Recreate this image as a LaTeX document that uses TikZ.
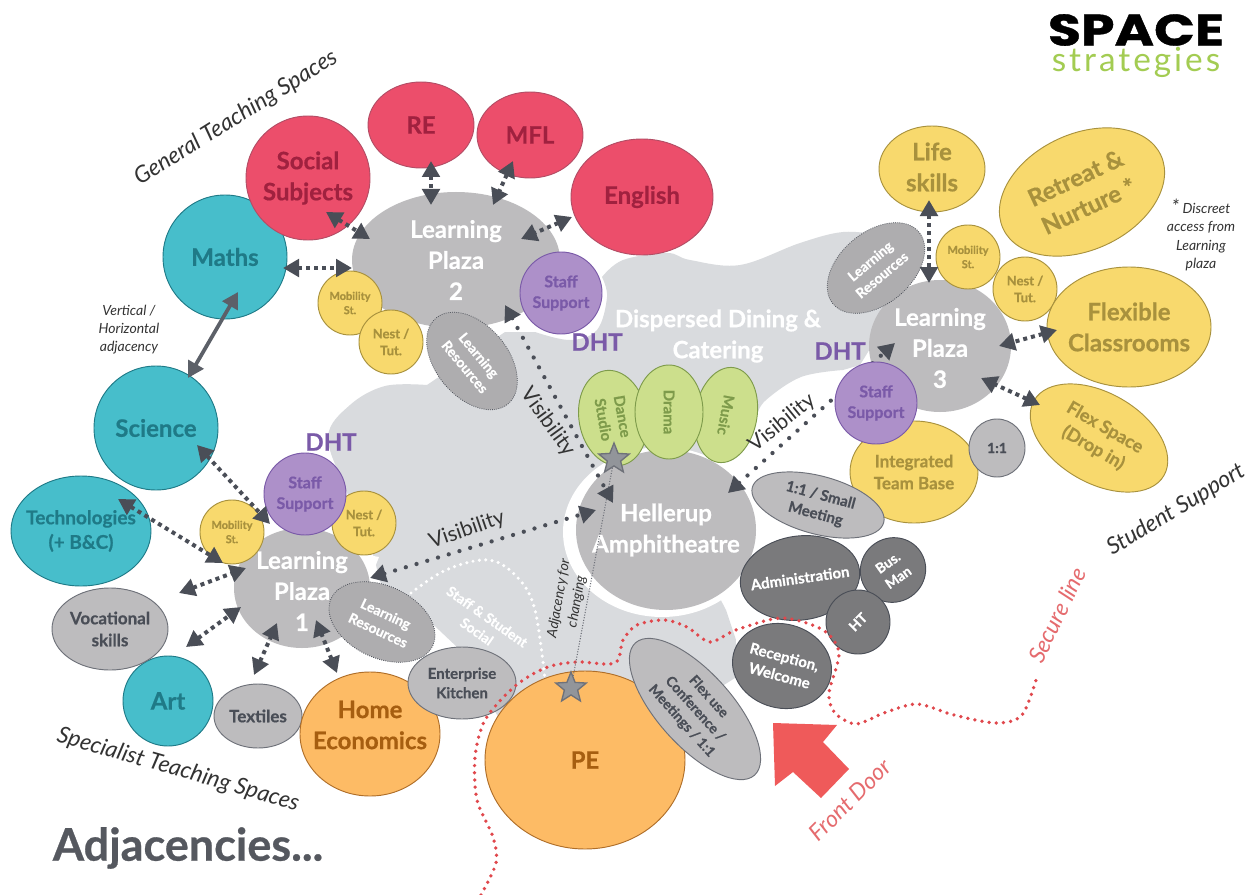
\documentclass[tikz,border=0pt]{standalone}
\usepackage{fontspec}
\setmainfont{Lato}[BoldFeatures={FakeBold=0.6}]
\newfontfamily\logofont{Poppins}[BoldFeatures={FakeBold=0.8}]
\usetikzlibrary{shapes.geometric,arrows.meta}
\definecolor{cbg}{HTML}{D9DBDE}
\definecolor{cteal}{HTML}{47BECB}\definecolor{cteald}{HTML}{1F7A87}
\definecolor{cred}{HTML}{EC4E6B}\definecolor{credd}{HTML}{A0213F}
\definecolor{cyel}{HTML}{F8D96D}\definecolor{cyeld}{HTML}{A8913D}
\definecolor{cpur}{HTML}{AD90C9}\definecolor{cpurd}{HTML}{7A5AA8}
\definecolor{cgry}{HTML}{BDBCBE}\definecolor{cgryd}{HTML}{4A4E57}
\definecolor{cdrk}{HTML}{7A7A7C}
\definecolor{cgrn}{HTML}{CCDF8C}\definecolor{cgrnd}{HTML}{7E9B4B}
\definecolor{corg}{HTML}{FDBB65}\definecolor{corgd}{HTML}{A65E10}
\definecolor{carrow}{HTML}{4A4E57}
\definecolor{csec}{HTML}{E0474C}
\definecolor{clab}{HTML}{333333}
\definecolor{cfront}{HTML}{EF5A5A}
\definecolor{cfronttext}{HTML}{E56B6E}
\definecolor{ctitle}{HTML}{55585F}
\definecolor{cgreen}{HTML}{A3CC52}
\tikzset{
  bubble/.style={ellipse,inner sep=0pt,outer sep=0pt},
  bteal/.style={fill=cteal,draw=cteald,line width=.7pt},
  bteal-t/.style={text=cteald},
  bred/.style={fill=cred,draw=credd!80,line width=.7pt},
  bred-t/.style={text=credd},
  byel/.style={fill=cyel,draw=cyeld,line width=.7pt},
  byel-t/.style={text=cyeld},
  bpur/.style={fill=cpur,draw=cpurd,line width=.7pt},
  bpur-t/.style={text=cpurd},
  bgry/.style={fill=cgry,draw=cgryd!80,line width=.7pt},
  bgry-t/.style={text=cgryd},
  bplaza/.style={fill=cgry},
  bplaza-t/.style={text=white},
  blr/.style={fill=cgry!92!black,draw=cgryd,line width=.6pt,densely dotted},
  blr-t/.style={text=white},
  bdrk/.style={fill=cdrk,draw=cgryd,line width=.7pt},
  bdrk-t/.style={text=white},
  bgrn/.style={fill=cgrn,draw=cgrnd,line width=.7pt},
  bgrn-t/.style={text=cgrnd},
  borg/.style={fill=corg,draw=corgd!90,line width=.7pt},
  borg-t/.style={text=corgd},
  dblarr/.style={draw=carrow,line width=3pt,dash pattern=on 3pt off 3pt,
     arrows={Triangle[length=12pt,width=13pt,fill=carrow]-Triangle[length=12pt,width=13pt,fill=carrow]}},
  solidarr/.style={draw=carrow!90,line width=2.8pt,
     arrows={Triangle[length=12pt,width=13pt]-Triangle[length=12pt,width=13pt]}},
  visarr/.style={draw=carrow,line width=3.2pt,line cap=round,dash pattern=on 0pt off 8.4pt,
     arrows={Triangle[length=12pt,width=13pt,fill=carrow]-Triangle[length=12pt,width=13pt,fill=carrow]}},
  secline/.style={draw=csec,line width=2.8pt,line cap=round,dash pattern=on 0pt off 5.4pt},
  whitedots/.style={draw=white,line width=2.6pt,line cap=round,dash pattern=on 0pt off 4.8pt},
  starnode/.style={star,star points=5,star point ratio=2.3,minimum size=24pt,inner sep=0pt,fill=cgryd!60,draw=cgryd!80,line width=1pt},
  adjline/.style={draw=cgryd!80,line width=.8pt,dash pattern=on .8pt off 1.2pt},
}
\def\bubdy{0}
\newcommand\bub[9]{%
  \pgfmathsetmacro\bubw{#5*1.5}\pgfmathsetmacro\bubh{#6*1.5}%
  \pgfmathsetmacro\bubfs{#8*.75}\pgfmathsetmacro\bubls{#8*.97}%
  \node[bubble,#1,minimum width=\bubw pt,minimum height=\bubh pt,rotate=#7] (#2) at (#3,#4) {};
  \node[#1-t,rotate=#7,inner sep=0pt,align=center,font=\fontsize{\bubfs}{\bubls}\selectfont\bfseries] (#2-t) at ([shift={(0,\bubdy)}]#2.center) {#9};
  \gdef\bubdy{0}%
}
\newcommand\lab[8]{%
  \pgfmathsetmacro\bubfs{#6*.75}\pgfmathsetmacro\bubls{#6*.97}%
  \node[text=#1,rotate=#5,inner sep=0pt,align=center,font=\fontsize{\bubfs}{\bubls}\selectfont#2] (#7) at (#3,#4) {#8};
}
\newcommand\conn[7]{\draw[#1] ([shift={(#3,#4)}]#2.center) -- ([shift={(#6,#7)}]#5.center);}
\begin{document}
\begin{tikzpicture}[x=.75pt,y=-.75pt]
\useasboundingbox (0,0) rectangle (1249,895);
\fill[white] (0,0) rectangle (1249,895);
% background blob
\fill[cbg] plot[smooth,tension=.6] coordinates {(602,277)(623,260)(667,253)(690,260)(740,265)(800,243)(843,232)(880,235)}
  -- (900,300) -- (860,365)
  -- plot[smooth,tension=.6] coordinates {(843,370)(801,377)(766,400)(757,415)}
  -- (700,470) -- (700,560) -- (726,610) -- (736,640) -- (735,678) -- (700,700) -- (600,720) -- (500,720) -- (457,647)
  -- plot[smooth,tension=.6] coordinates {(421,613)(385,590)(372,552)(346,490)(328,437)(350,405)(385,386)(427,385)}
  -- (505,332)
  -- plot[smooth,tension=.6] coordinates {(535,332)(570,340)(597,330)(607,297)(602,277)} -- cycle;
\fill[white] (662,532) ellipse [x radius=99,y radius=85];
\fill[white] (368,555) -- (379,557) -- (373,572) -- cycle;
\draw[whitedots] plot[smooth,tension=.6] coordinates {(411,593)(446,570)(489,560)(518,578)(535,610)(545,680)};
% plazas and amphitheatre
\def\bubdy{3}\bub{bplaza}{lp1}{302}{588}{68}{60}{0}{24}{Learning\\Plaza\\1}
\bub{bplaza}{lp2}{456}{260}{104}{68}{0}{24}{Learning\\Plaza\\2}
\def\bubdy{2}\bub{bplaza}{lp3}{940}{346}{71}{66}{0}{24}{Learning\\Plaza\\3}
\bub{bplaza}{amph}{666}{530}{90}{80}{0}{24}{Hellerup\\Amphitheatre}
\conn{visarr}{amph}{62}{-37}{lp3}{-45}{-3}
% teal
\bub{bteal}{maths}{225}{257}{62}{62}{0}{24}{Maths}
\bub{bteal}{science}{156}{428}{62}{62}{0}{24}{Science}
\bub{bteal}{tech}{81}{531}{70}{55}{0}{19}{Technologies\\(+ B\&C)}
\bub{bteal}{art}{168}{701}{45}{45}{0}{24}{Art}
% red
\bub{bred}{social}{308}{178}{62}{62}{0}{24}{Social\\Subjects}
\bub{bred}{re}{421}{125}{53}{43}{0}{24}{RE}
\bub{bred}{mfl}{530}{135}{53}{43}{0}{24}{MFL}
\bub{bred}{english}{642}{197}{71}{58}{0}{24}{English}
% left group
\bub{bgry}{voc}{110}{629}{58}{41}{0}{17}{Vocational\\skills}
\bub{bgry}{textiles}{258}{716}{44}{32}{0}{17}{Textiles}
\def\bubdy{-9}\bub{borg}{home}{370}{734}{70}{62}{0}{24}{Home\\Economics}
\bub{bgry}{kitchen}{462}{683}{54}{36}{0}{15}{Enterprise\\Kitchen}
\bub{byel}{mob1}{232}{532}{32}{32}{0}{11}{Mobility\\St.}
\bub{byel}{nest1}{364}{523}{32}{32}{0}{13}{Nest /\\Tut.}
\bub{bpur}{staff1}{305}{494}{41}{41}{0}{16}{Staff\\Support}
\bub{blr}{res1}{382}{622}{56}{36}{-25}{14}{Learning\\Resources}
% top group
\bub{byel}{mob2}{350}{303}{32}{32}{0}{11}{Mobility\\St.}
\bub{byel}{nest2}{391}{342}{32}{32}{0}{13}{Nest /\\Tut.}
\bub{bpur}{staff2}{561}{293}{41}{41}{0}{16}{Staff\\Support}
\bub{blr}{res2}{472}{361}{56}{36}{-50}{14}{Learning\\Resources}
% right group
\def\bubdy{-2}\bub{byel}{life}{932}{169}{53}{43}{0}{24}{Life\\skills}
\bub{byel}{retreat}{1082}{192}{87}{58}{25}{24}{Retreat \&\\Nurture *}
\bub{byel}{mob3}{968}{257}{32}{32}{0}{11}{Mobility\\St.}
\bub{byel}{nest3}{1025}{289}{32}{32}{0}{13}{Nest /\\Tut.}
\bub{byel}{flexible}{1129}{327}{82}{60}{0}{24}{Flexible\\Classrooms}
\bub{byel}{flexspace}{1099}{438}{75}{45}{-30}{18}{Flex Space\\(Drop in)}
\bub{blr}{res3}{876}{268}{56}{36}{40}{14}{Learning\\Resources}
\bub{byel}{team}{914}{472}{64}{51}{0}{17}{Integrated\\Team Base}
\bub{bpur}{staff3}{876}{403}{41}{41}{0}{16}{Staff\\Support}
\bub{bgry}{one}{997}{448}{28}{29}{0}{14}{1:1}
\bub{bgry}{small}{818}{505}{68}{29}{-15}{15}{1:1 / Small\\Meeting}
% admin
\bub{bdrk}{admin}{800}{578}{60}{42}{8}{15}{Administration}
\bub{bdrk}{bus}{893}{570}{33}{32}{35}{14}{Bus.\\Man}
\bub{bdrk}{ht}{858}{622}{32}{32}{45}{14}{HT}
\bub{bdrk}{recep}{782}{666}{50}{42}{-15}{15}{Reception,\\Welcome}
% PE
\bub{borg}{pe}{585}{760}{100}{89}{0}{24}{PE}
\bub{bgry}{flexuse}{695}{709}{89}{37}{-48}{14}{Flex use\\Conference /\\Meetings / 1:1}
% performance
\bub{bgrn}{dance}{613}{418}{48}{34}{-80}{15}{Dance\\Studio}
\bub{bgrn}{music}{726}{415}{48}{31}{-100}{15}{Music}
\bub{bgrn}{drama}{669}{412}{47}{34}{-90}{15}{Drama}
% secure line
\draw[secline] plot[smooth,tension=.5] coordinates {(481,895)(496,863)(493,837)(477,800)(475,757)(485,720)(514,687)(545,668)(576,662)(615,663)(623,640)(637,625)(664,620)(687,627)(710,642)(736,630)(782,618)(823,630)(839,653)(829,693)(835,713)(856,724)(884,713)(917,704)(954,715)(996,723)(1022,715)(1037,677)};
% stars
\node[starnode] (star1) at (614,459) {};
\node[starnode] (star2) at (571,688) {};
\draw[adjline] (star1) -- (star2);
% connectors
\conn{dblarr}{maths}{58}{11}{lp2}{-104}{8}
\conn{dblarr}{social}{18}{34}{lp2}{-86}{-21}
\conn{dblarr}{re}{10}{36}{lp2}{-25}{-55}
\conn{dblarr}{mfl}{-17}{26}{lp2}{37}{-55}
\conn{dblarr}{english}{-70}{20}{lp2}{65}{-21}
\conn{solidarr}{maths}{13}{35}{science}{32}{-50}
\conn{dblarr}{science}{41}{17}{lp1}{-32}{-64}
\conn{dblarr}{tech}{37}{-32}{lp1}{-79}{-25}
\conn{dblarr}{voc}{69}{-36}{lp1}{-56}{-20}
\conn{dblarr}{art}{18}{-54}{lp1}{-61}{19}
\conn{dblarr}{textiles}{-4}{-41}{lp1}{-25}{35}
\conn{dblarr}{home}{-33}{-61}{lp1}{14}{32}
\conn{dblarr}{life}{-3}{31}{lp3}{-11}{-63}
\conn{dblarr}{flexible}{-72}{3}{lp3}{59}{0}
\conn{dblarr}{flexspace}{-59}{-33}{lp3}{41}{32}
\conn{visarr}{lp2}{49}{45}{amph}{-53}{-27}
\conn{visarr}{lp1}{68}{-10}{amph}{-70}{-20}
% front door arrow
\fill[cfront] (773,723) -- (837,725) -- (823,742) -- (849,769) -- (821,798) -- (793,772) -- (775,786) -- cycle;
% labels
\lab{clab}{\itshape}{236}{118}{32}{23}{gts}{General Teaching Spaces}
\lab{clab}{\itshape}{178}{770}{-16}{23}{sts}{Specialist Teaching Spaces}
\lab{clab}{\itshape}{1176}{510}{31}{23}{sus}{Student Support}
\lab{clab}{\itshape}{129}{330}{0}{14}{vh}{Vertical /\\Horizontal\\adjacency}
\lab{clab}{\itshape}{1201}{235}{0}{14}{disc}{{\Large *} Discreet\\access from\\Learning\\plaza}
\lab{clab}{}{548}{422}{-54}{21}{vis1}{Visibility}
\lab{clab}{}{467}{530}{19}{21}{vis2}{Visibility}
\lab{clab}{}{782}{423}{39}{21}{vis3}{Visibility}
\lab{clab}{\itshape}{568}{600}{80}{14}{adj}{Adjacency for\\changing}
\lab{cfronttext}{\itshape}{850}{800}{45}{23}{fd}{Front Door}
\lab{cfronttext}{\itshape}{1057}{615}{64}{23}{sl}{Secure line}
\lab{white}{\bfseries}{718}{336}{0}{24}{disp}{Dispersed Dining \&\\Catering}
\lab{white}{\bfseries}{482}{624}{-35}{14}{social2}{Staff \& Student\\Social}
\lab{cpurd}{\bfseries}{331}{442}{0}{24}{dht1}{DHT}
\lab{cpurd}{\bfseries}{597}{342}{0}{24}{dht2}{DHT}
\lab{cpurd}{\bfseries}{840}{351}{0}{24}{dht3}{DHT}
\lab{ctitle}{\bfseries}{188}{848}{0}{45}{title}{Adjacencies...}
\node[inner sep=0pt,font=\logofont\fontsize{33}{33}\selectfont\bfseries] (logo1) at (1136,30) {\scalebox{1.22}[1]{SPACE}};
\node[inner sep=0pt,text=cgreen,font=\fontsize{25}{25}\selectfont] (logo2) at (1136,62) {\addfontfeature{LetterSpace=9}strategies};
\end{tikzpicture}
\end{document}
